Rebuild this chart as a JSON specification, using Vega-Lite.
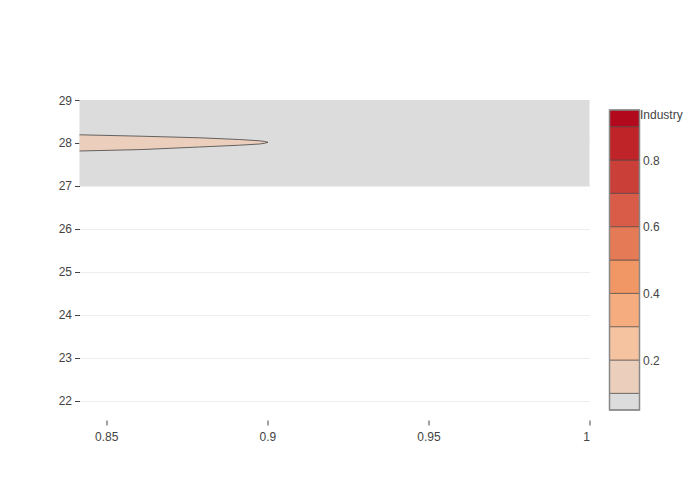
{
  "$schema": "https://vega.github.io/schema/vega-lite/v6.json",
  "padding": {"left": 57.5, "top": 94, "right": 10, "bottom": 10},
  "background": "white",
  "config": {
    "view": {"stroke": null},
    "font": "Liberation Sans",
    "axis": {
      "labelFont": "Liberation Sans",
      "labelFontSize": 12,
      "labelColor": "#444",
      "tickColor": "#444",
      "domain": false,
      "titleFont": "Liberation Sans"
    }
  },
  "datasets": {
    "region": [{"x0": 0.8417, "x1": 1, "y0": 27, "y1": 29}],
    "lens": [
      {"x": 0.8417, "upper": 28.191, "lower": 27.814},
      {"x": 0.8609, "upper": 28.158, "lower": 27.847},
      {"x": 0.879, "upper": 28.121, "lower": 27.907},
      {"x": 0.8914, "upper": 28.081, "lower": 27.949},
      {"x": 0.8976, "upper": 28.051, "lower": 27.977},
      {"x": 0.8992, "upper": 28.035, "lower": 27.995},
      {"x": 0.9002, "upper": 28.016, "lower": 28.016}
    ],
    "bands": [
      {"lo": 0.05, "hi": 0.1, "band": "b0"},
      {"lo": 0.1, "hi": 0.2, "band": "b1"},
      {"lo": 0.2, "hi": 0.3, "band": "b2"},
      {"lo": 0.3, "hi": 0.4, "band": "b3"},
      {"lo": 0.4, "hi": 0.5, "band": "b4"},
      {"lo": 0.5, "hi": 0.6, "band": "b5"},
      {"lo": 0.6, "hi": 0.7, "band": "b6"},
      {"lo": 0.7, "hi": 0.8, "band": "b7"},
      {"lo": 0.8, "hi": 0.9, "band": "b8"},
      {"lo": 0.9, "hi": 0.95, "band": "b9"}
    ],
    "frame": [{"lo": 0.05, "hi": 0.95}]
  },
  "spacing": 20,
  "bounds": "flush",
  "hconcat": [
    {
      "width": 510,
      "height": 320,
      "layer": [
        {
          "data": {"name": "region"},
          "mark": {"type": "rect", "fill": "#dcdcdc"},
          "encoding": {
            "x": {
              "field": "x0", "type": "quantitative",
              "scale": {"domain": [0.8417, 1], "nice": false, "zero": false},
              "axis": {"title": null, "values": [0.85, 0.9, 0.95, 1], "grid": false, "tickSize": 5, "labelPadding": 6, "labelExpr": "format(datum.value, '~g')"}
            },
            "x2": {"field": "x1"},
            "y": {
              "field": "y0", "type": "quantitative",
              "scale": {"domain": [21.558, 29], "nice": false, "zero": false},
              "axis": {"title": null, "values": [22, 23, 24, 25, 26, 27, 28, 29], "grid": true, "gridColor": "#eeeeee", "gridWidth": 1, "tickSize": 5, "labelPadding": 3}
            },
            "y2": {"field": "y1"}
          }
        },
        {
          "data": {"name": "lens"},
          "mark": {"type": "area", "fill": "#ebcfbc"},
          "encoding": {
            "x": {"field": "x", "type": "quantitative"},
            "y": {"field": "upper", "type": "quantitative"},
            "y2": {"field": "lower"}
          }
        },
        {
          "data": {"name": "lens"},
          "transform": [{"fold": ["upper", "lower"], "as": ["edge", "yv"]}],
          "mark": {"type": "line", "stroke": "#444", "strokeWidth": 1, "opacity": 0.8},
          "encoding": {
            "x": {"field": "x", "type": "quantitative"},
            "y": {"field": "yv", "type": "quantitative"},
            "detail": {"field": "edge"}
          }
        }
      ]
    },
    {
      "width": 30,
      "height": 310,
      "layer": [
        {
          "data": {"name": "bands"},
          "mark": {"type": "rect", "stroke": "#444", "strokeWidth": 0.6},
          "encoding": {
            "y": {
              "field": "lo", "type": "quantitative",
              "scale": {"domain": [0.05, 0.98], "nice": false, "zero": false},
              "axis": {
                "orient": "right", "values": [0.2, 0.4, 0.6, 0.8], "tickSize": 0, "labelPadding": 3, "grid": false,
                "title": "Industry", "titleAngle": 0, "titleAlign": "left", "titleBaseline": "middle",
                "titleX": 0, "titleY": 14, "titleFontWeight": "normal", "titleFontSize": 12, "titleColor": "#444"
              }
            },
            "y2": {"field": "hi"},
            "color": {
              "field": "band", "type": "nominal", "legend": null,
              "scale": {
                "domain": ["b0", "b1", "b2", "b3", "b4", "b5", "b6", "b7", "b8", "b9"],
                "range": ["#dcdcdc", "#ebcfbc", "#f5c3a0", "#f5ad7f", "#f19665", "#e47a56", "#d85c47", "#ca3f38", "#bf2429", "#b20a1c"]
              }
            }
          }
        },
        {
          "data": {"name": "frame"},
          "mark": {"type": "rect", "fill": null, "stroke": "#888", "strokeWidth": 1.5},
          "encoding": {
            "y": {"field": "lo", "type": "quantitative"},
            "y2": {"field": "hi"}
          }
        }
      ]
    }
  ]
}
